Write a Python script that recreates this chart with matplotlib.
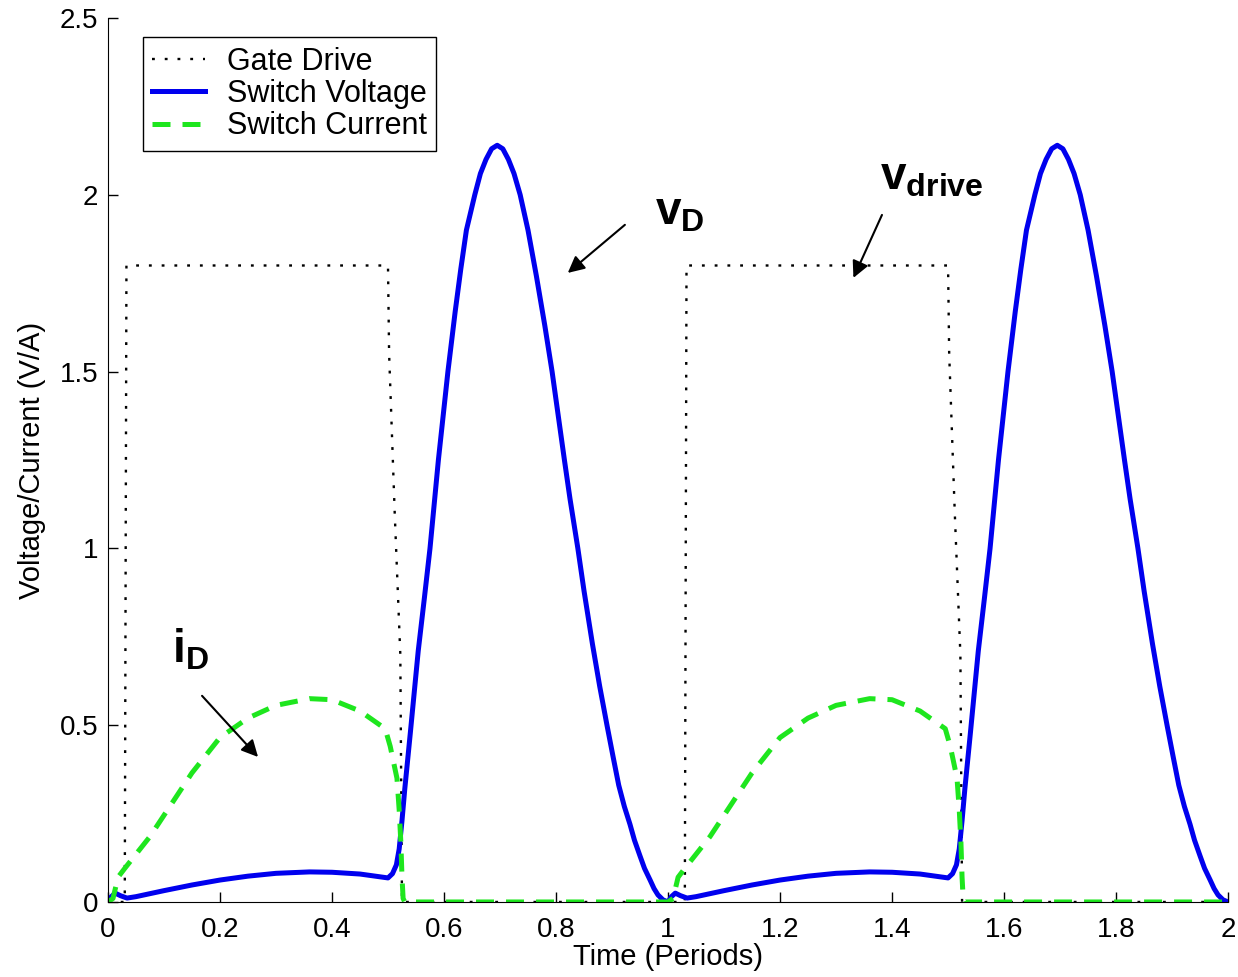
import numpy as np
import matplotlib
matplotlib.use("Agg")
import matplotlib.pyplot as plt

# values (time in periods, amplitude in V or A)
t_gate = [0.0, 0.030, 0.033, 0.500, 0.502, 0.512, 0.522, 0.525,
          1.030, 1.033, 1.500, 1.502, 1.512, 1.522, 1.525, 2.0]
gate = [0.0, 0.0, 1.8, 1.8, 1.55, 1.1, 0.7, 0.0,
        0.0, 1.8, 1.8, 1.55, 1.1, 0.7, 0.0, 0.0]

t_volt = [0.0, 0.006, 0.013, 0.022, 0.034, 0.05, 0.1, 0.15, 0.2, 0.25, 0.3, 0.36, 0.4, 0.45, 0.5,
          0.508, 0.515, 0.52, 0.525, 0.53, 0.54, 0.554, 0.565, 0.575, 0.59, 0.607, 0.62, 0.63, 0.64,
          0.655, 0.665, 0.675, 0.685, 0.695, 0.705, 0.715, 0.725, 0.736, 0.75, 0.765, 0.78, 0.793,
          0.815, 0.825, 0.839, 0.85, 0.865, 0.878, 0.891, 0.902, 0.912, 0.922, 0.932, 0.94, 0.95,
          0.958, 0.968, 0.975, 0.982, 0.991, 1.0,
          1.006, 1.013, 1.022, 1.034, 1.05, 1.1, 1.15, 1.2, 1.25, 1.3, 1.36, 1.4, 1.45, 1.5,
          1.508, 1.515, 1.52, 1.525, 1.53, 1.54, 1.554, 1.565, 1.575, 1.59, 1.607, 1.62, 1.63, 1.64,
          1.655, 1.665, 1.675, 1.685, 1.695, 1.705, 1.715, 1.725, 1.736, 1.75, 1.765, 1.78, 1.793,
          1.815, 1.825, 1.839, 1.85, 1.865, 1.878, 1.891, 1.902, 1.912, 1.922, 1.932, 1.94, 1.95,
          1.958, 1.968, 1.975, 1.982, 1.991, 2.0]
volt = [0.0, 0.015, 0.025, 0.018, 0.011, 0.015, 0.032, 0.048, 0.062, 0.073, 0.081, 0.085, 0.084, 0.079, 0.068,
        0.08, 0.105, 0.15, 0.23, 0.32, 0.48, 0.71, 0.86, 1.0, 1.25, 1.5, 1.67, 1.79, 1.9,
        2.0, 2.06, 2.1, 2.13, 2.14, 2.13, 2.1, 2.06, 2.0, 1.9, 1.77, 1.63, 1.5,
        1.25, 1.14, 1.0, 0.88, 0.73, 0.61, 0.5, 0.41, 0.33, 0.27, 0.22, 0.175, 0.13,
        0.095, 0.062, 0.038, 0.02, 0.006, 0.0,
        0.015, 0.025, 0.018, 0.011, 0.015, 0.032, 0.048, 0.062, 0.073, 0.081, 0.085, 0.084, 0.079, 0.068,
        0.08, 0.105, 0.15, 0.23, 0.32, 0.48, 0.71, 0.86, 1.0, 1.25, 1.5, 1.67, 1.79, 1.9,
        2.0, 2.06, 2.1, 2.13, 2.14, 2.13, 2.1, 2.06, 2.0, 1.9, 1.77, 1.63, 1.5,
        1.25, 1.14, 1.0, 0.88, 0.73, 0.61, 0.5, 0.41, 0.33, 0.27, 0.22, 0.175, 0.13,
        0.095, 0.062, 0.038, 0.02, 0.006, 0.0]

t_curr = [0.0, 0.009, 0.018, 0.03, 0.05, 0.075, 0.1, 0.15, 0.2, 0.25, 0.3, 0.36, 0.4, 0.45, 0.495,
          0.504, 0.516, 0.52, 0.523, 0.525, 0.527, 0.53, 1.0,
          1.009, 1.018, 1.03, 1.05, 1.075, 1.1, 1.15, 1.2, 1.25, 1.3, 1.36, 1.4, 1.45, 1.495,
          1.504, 1.516, 1.52, 1.523, 1.525, 1.527, 1.53, 2.0]
curr = [0.0, 0.01, 0.07, 0.095, 0.135, 0.185, 0.245, 0.365, 0.465, 0.52, 0.556, 0.575, 0.572, 0.54, 0.49,
        0.44, 0.35, 0.26, 0.167, 0.07, 0.01, 0.0, 0.0,
        0.01, 0.07, 0.095, 0.135, 0.185, 0.245, 0.365, 0.465, 0.52, 0.556, 0.575, 0.572, 0.54, 0.49,
        0.44, 0.35, 0.26, 0.167, 0.07, 0.01, 0.0, 0.0]

x_ticks = [0, 0.2, 0.4, 0.6, 0.8, 1, 1.2, 1.4, 1.6, 1.8, 2]
x_tick_labels = ['0', '0.2', '0.4', '0.6', '0.8', '1', '1.2', '1.4', '1.6', '1.8', '2']
y_ticks = [0, 0.5, 1, 1.5, 2, 2.5]
y_tick_labels = ['0', '0.5', '1', '1.5', '2', '2.5']

plt.rcParams['font.family'] = ['Liberation Sans', 'DejaVu Sans']
plt.rcParams['mathtext.fontset'] = 'custom'
plt.rcParams['mathtext.bf'] = 'Liberation Sans:bold'
plt.rcParams['mathtext.rm'] = 'Liberation Sans'

fig = plt.figure(figsize=(12.38, 9.77), dpi=100)
ax = fig.add_axes([0.0872, 0.0768, 0.9048, 0.9048])

ax.plot(t_gate, gate, color='black', linestyle=(0, (1.2, 4.2)), linewidth=1.7, label='Gate Drive')
ax.plot(t_volt, volt, color='#0000ee', linestyle='-', linewidth=3.6, label='Switch Voltage',
        solid_joinstyle='round')
ax.plot(t_curr, curr, color='#1ee61e', linestyle=(0, (3.6, 2.4)), linewidth=3.6, label='Switch Current')

ax.set_xlim(0, 2)
ax.set_ylim(0, 2.5)
ax.set_xticks(x_ticks)
ax.set_xticklabels(x_tick_labels)
ax.set_yticks(y_ticks)
ax.set_yticklabels(y_tick_labels)
ax.tick_params(direction='in', length=7, width=1, labelsize=20)
ax.tick_params(axis='x', pad=11)
ax.tick_params(axis='y', pad=7)
ax.spines['top'].set_visible(False)
ax.spines['right'].set_visible(False)
ax.set_xlabel('Time (Periods)', fontsize=21, labelpad=0)
ax.set_ylabel('Voltage/Current (V/A)', fontsize=21, labelpad=10)

leg = ax.legend(loc='upper left', bbox_to_anchor=(0.031, 0.978), borderaxespad=0,
                fontsize=22, fancybox=False, edgecolor='black', framealpha=1,
                handlelength=1.75, handletextpad=0.7, labelspacing=0.08, borderpad=0.3)
leg.get_frame().set_linewidth(1.0)

arrow = dict(arrowstyle='-|>', color='black', lw=1.5, mutation_scale=25, shrinkA=0, shrinkB=0)
ax.text(0.977, 1.915, r'$\mathbf{v}_{\mathbf{D}}$', fontsize=33, ha='left', va='baseline')
ax.annotate('', xy=(0.821, 1.779), xytext=(0.923, 1.915), arrowprops=arrow)
ax.text(1.379, 2.014, r'$\mathbf{v}_{\mathbf{drive}}$', fontsize=33, ha='left', va='baseline')
ax.annotate('', xy=(1.331, 1.765), xytext=(1.382, 1.943), arrowprops=arrow)
ax.text(0.114, 0.676, r'$\mathbf{i}_{\mathbf{D}}$', fontsize=33, ha='left', va='baseline')
ax.annotate('', xy=(0.268, 0.41), xytext=(0.168, 0.583), arrowprops=arrow)

fig.savefig('out.png', dpi=100)
